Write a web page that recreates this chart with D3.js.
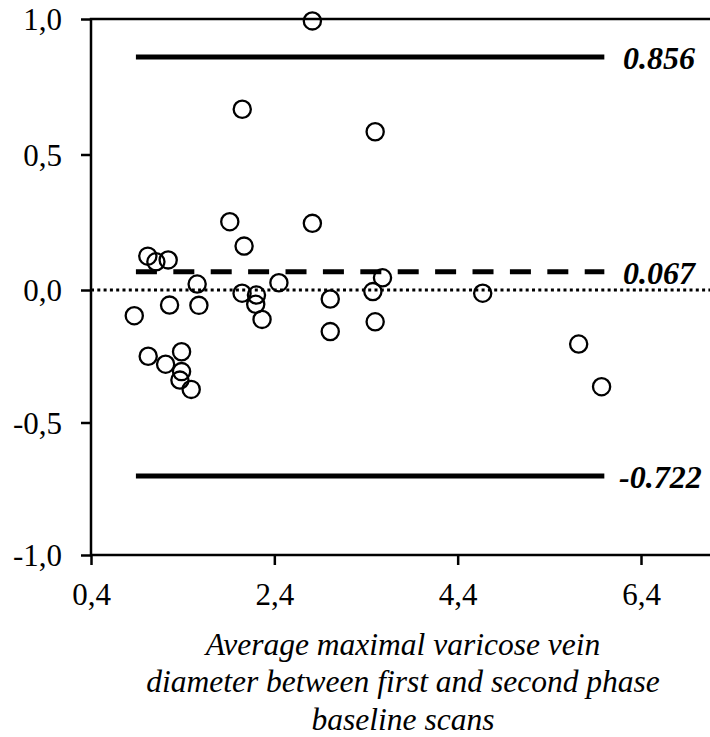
<!DOCTYPE html>
<html>
<head>
<meta charset="utf-8">
<script src="https://cdn.jsdelivr.net/npm/d3@7"></script>
<style>
	body { margin: 0; background: #fff; }
	svg { display: block; }
</style>
</head>
<body>
<svg id="chart" width="710" height="737"></svg>
<script>
// x = mean diameter, y = difference between scans
var meanDiameter = [
	2.815, 2.05, 1.914, 2.815, 2.07, 1.02, 1.108, 1.242, 1.558, 2.45,
	3.50, 3.58, 0.872, 1.257, 1.577, 2.048, 2.205, 2.197, 2.266, 3.01,
	3.01, 1.024, 1.214, 1.388, 1.388, 1.37, 1.493, 3.475, 3.50, 4.673,
	5.72, 5.97
]
var difference = [
	0.993, 0.667, 0.252, 0.246, 0.162, 0.125, 0.104, 0.111, 0.022, 0.027,
	0.584, 0.045, -0.097, -0.057, -0.058, -0.012, -0.019, -0.054, -0.111, -0.034,
	-0.157, -0.250, -0.280, -0.233, -0.308, -0.340, -0.375, -0.006, -0.120, -0.012,
	-0.204, -0.365
]

// limits of agreement / mean bias (position as drawn, printed label)
var limitValues = [0.86, 0.067, -0.702]
var limitLabels = ['0.856', '0.067', '-0.722']
var limitDashed = [false, true, false]
var limitRange = [0.89, 6.0]

var xTicks = [0.4, 2.4, 4.4, 6.4]
var yTicks = [-1, -0.5, 0, 0.5, 1]

var serif = 'Liberation Serif'

var svg = d3.select('#chart')

var x = d3.scaleLinear().domain([0.4, 6.4]).range([91, 641])
var y = d3.scaleLinear().domain([-1, 0, 1]).range([555, 290, 19])
var xRight = 712

var comma = d => d3.format('.1f')(d).replace('.', ',').replace('\u2212', '-')

/* ===== AXES ===== */
var gx = svg.append('g')
	.attr('transform', `translate(0,${y(-1)})`)
	.call(d3.axisBottom(x).tickValues(xTicks).tickFormat(comma).tickSize(10).tickPadding(18))
gx.attr('font-family', serif).attr('font-size', 31)
gx.select('.domain').remove()
gx.selectAll('.tick line').attr('stroke-width', 2.5)
gx.selectAll('.tick text').attr('fill', '#000')

var gy = svg.append('g')
	.attr('transform', `translate(${x(0.4)},0)`)
	.call(d3.axisLeft(y).tickValues(yTicks).tickFormat(comma).tickSize(10).tickPadding(19))
gy.attr('font-family', serif).attr('font-size', 31)
gy.select('.domain').remove()
gy.selectAll('.tick line').attr('stroke-width', 2.5)
gy.selectAll('.tick text').attr('fill', '#000').attr('dy', '0.34em')

// frame lines: left, bottom and top run off the right edge
svg.append('path')
	.attr('d', `M${xRight},${y(1)}H${x(0.4)}V${y(-1)}H${xRight}`)
	.attr('fill', 'none')
	.attr('stroke', '#000')
	.attr('stroke-width', 2.5)

// zero reference
svg.append('line')
	.attr('x1', x(0.4)).attr('x2', xRight)
	.attr('y1', y(0)).attr('y2', y(0))
	.attr('stroke', '#000')
	.attr('stroke-width', 3)
	.attr('stroke-dasharray', '3,3.3')

/* ===== LIMIT LINES ===== */
limitValues.forEach((v, i) => {
	svg.append('line')
		.attr('x1', x(limitRange[0])).attr('x2', x(limitRange[1]))
		.attr('y1', y(v)).attr('y2', y(v))
		.attr('stroke', '#000')
		.attr('stroke-width', 5)
		.attr('stroke-dasharray', limitDashed[i] ? '21,16.4' : null)

	svg.append('text')
		.attr('x', limitLabels[i][0] === '-' ? 619 : 623)
		.attr('y', y(v) + 12)
		.attr('font-family', serif)
		.attr('font-size', 32)
		.attr('font-weight', 'bold')
		.attr('font-style', 'italic')
		.text(limitLabels[i])
})

/* ===== POINTS ===== */
svg.append('g')
	.selectAll('circle')
	.data(meanDiameter.map((d, i) => [d, difference[i]]))
	.join('circle')
	.attr('cx', d => x(d[0]))
	.attr('cy', d => y(d[1]))
	.attr('r', 8.6)
	.attr('fill', 'none')
	.attr('stroke', '#000')
	.attr('stroke-width', 2.3)

/* ===== TITLE ===== */
var titleLines = ['Average maximal varicose vein', 'diameter between first and second phase', 'baseline scans']
svg.append('text')
	.attr('font-family', serif)
	.attr('font-size', 31.5)
	.attr('font-style', 'italic')
	.attr('text-anchor', 'middle')
	.selectAll('tspan')
	.data(titleLines)
	.join('tspan')
	.attr('x', 403)
	.attr('y', (d, i) => 655 + i * 37.3)
	.text(d => d)
</script>
</body>
</html>
